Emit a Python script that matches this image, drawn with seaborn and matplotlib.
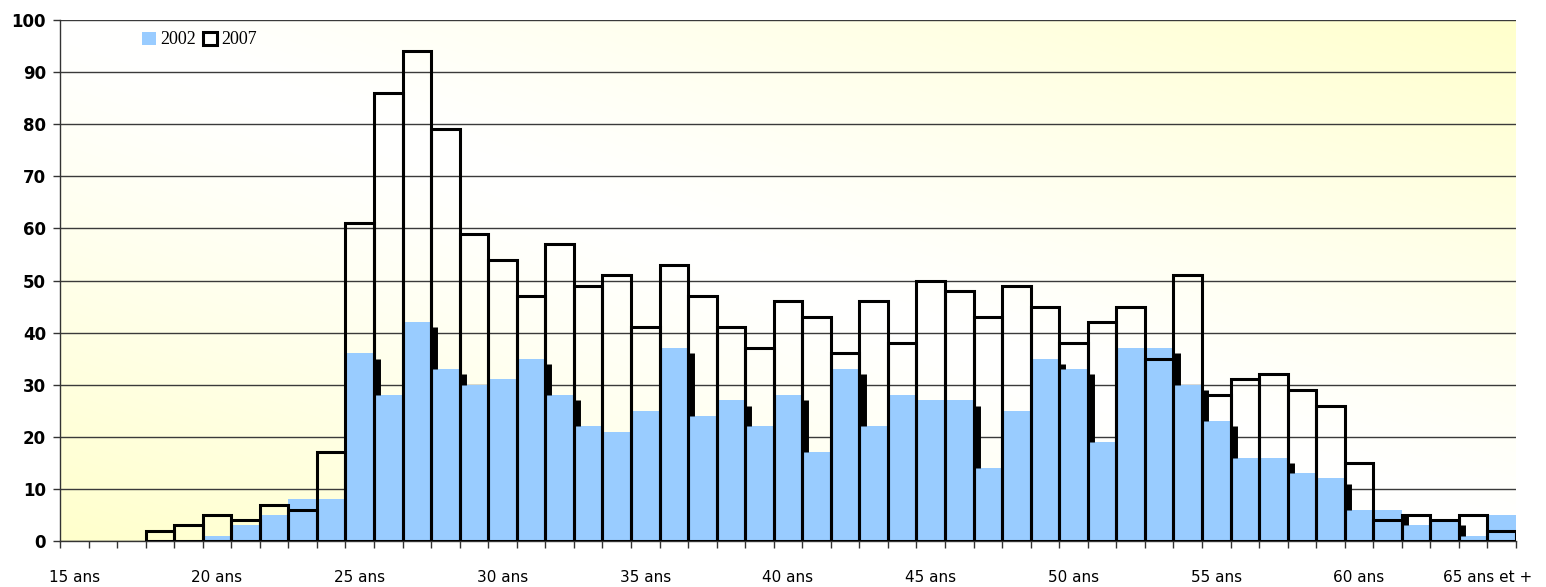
import numpy as np
import pandas as pd
import matplotlib
matplotlib.use("Agg")
import matplotlib.pyplot as plt
from matplotlib.patches import Patch
from matplotlib.transforms import ScaledTranslation
import seaborn as sns

# categories: one per year of age, last one grouped
ages = [f"{a} ans" for a in range(15, 65)] + ["65 ans et +"]

# effectifs 2002 (bleu)
v2002 = [0, 0, 0, 0, 0, 1, 3, 5, 8, 8,
         36, 28, 42, 33, 30, 31, 35, 28, 22, 21,
         25, 37, 24, 27, 22, 28, 17, 33, 22, 28,
         27, 27, 14, 25, 35, 33, 19, 37, 37, 30,
         23, 16, 16, 13, 12, 6, 6, 3, 4, 1,
         5]

# effectifs 2007 (contour noir)
v2007 = [0, 0, 0, 2, 3, 5, 4, 7, 6, 17,
         61, 86, 94, 79, 59, 54, 47, 57, 49, 51,
         41, 53, 47, 41, 37, 46, 43, 36, 46, 38,
         50, 48, 43, 49, 45, 38, 42, 45, 35, 51,
         28, 31, 32, 29, 26, 15, 4, 5, 4, 5,
         2]

df = pd.DataFrame({"age": ages, "2002": v2002, "2007": v2007})

sns.set_style("white")
plt.rcParams["font.family"] = ["DejaVu Sans"]
plt.rcParams["text.color"] = "black"

fig = plt.figure(figsize=(15.46, 5.87), dpi=100)
ax = fig.add_axes([60 / 1546, 46 / 587, 1456 / 1546, 521 / 587])
ax.set_facecolor("none")

# diagonal pale yellow / white gradient background
xx, yy = np.meshgrid(np.linspace(0, 1, 300), np.linspace(0, 1, 120))
w = np.abs(xx + yy - 1.0) ** 1.2
yellow = np.array([1.0, 1.0, 0.80])
grad = (1 - w)[..., None] * np.array([1.0, 1.0, 1.0]) + w[..., None] * yellow
ax.imshow(grad, extent=[0, 1, 0, 1], transform=ax.transAxes, origin="lower",
          aspect="auto", zorder=0, interpolation="bilinear")

sns.barplot(data=df, x="age", y="2002", order=ages, color="#99CCFF",
            saturation=1, width=1, linewidth=0, ax=ax, zorder=2)
n_blue = len(ax.patches)
sns.barplot(data=df, x="age", y="2007", order=ages, color="black",
            fill=False, width=1, linewidth=2.2, ax=ax, zorder=3)
for p in ax.patches[n_blue:]:
    if p.get_height() == 0:
        p.set_visible(False)

# dark edge left where the blue bar steps down
for i in range(len(v2002)):
    nxt = v2002[i + 1] if i + 1 < len(v2002) else 0
    if v2002[i] - 1 > nxt:
        ax.vlines(i + 0.61, nxt, v2002[i] - 1, color="black", lw=5, zorder=4)

ax.set_xlim(-0.5, len(ages) - 0.5)
ax.set_ylim(0, 100)
ax.set_yticks(range(0, 101, 10))
ax.yaxis.grid(True, color="#3a3a3a", lw=1.0)
ax.set_axisbelow(True)

ax.set_xticks(range(0, len(ages), 5))
ax.set_xticklabels([ages[i] for i in range(0, len(ages), 5)])
ax.set_xticks(np.arange(-0.5, len(ages), 1), minor=True)
ax.tick_params(axis="x", which="major", length=0, pad=21, labelsize=11,
               labelcolor="black")
ax.tick_params(axis="x", which="minor", length=5, width=1, color="#333333",
               direction="out", bottom=True)
ax.tick_params(axis="y", length=5, width=1, color="#333333", direction="out",
               left=True, pad=5, labelsize=12, labelcolor="black")
for lab in ax.get_yticklabels():
    lab.set_fontweight("bold")
last = ax.get_xticklabels()[-1]
last.set_transform(last.get_transform() + ScaledTranslation(-0.14, 0, fig.dpi_scale_trans))

ax.set_xlabel("")
ax.set_ylabel("")
sns.despine(ax=ax, top=True, right=True)
for s in ["left", "bottom"]:
    ax.spines[s].set_color("#333333")
    ax.spines[s].set_linewidth(1)

handles = [Patch(facecolor="#99CCFF", edgecolor="none", label="2002"),
           Patch(facecolor="none", edgecolor="black", lw=2.2, label="2007")]
ax.legend(handles=handles, loc="upper left", bbox_to_anchor=(0.0563, 0.978),
          ncol=2, frameon=False, borderpad=0, borderaxespad=0,
          handlelength=0.75, handleheight=0.75, handletextpad=0.25,
          columnspacing=0.4, prop={"family": "Liberation Serif", "size": 13})

fig.savefig("out.png", dpi=100)
